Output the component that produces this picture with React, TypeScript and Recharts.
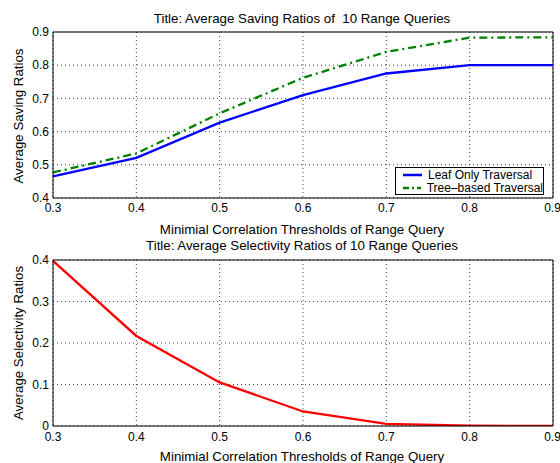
import { CartesianGrid, Line, LineChart, ReferenceLine, XAxis, YAxis } from "recharts";

const thresholds = [0.3, 0.4, 0.5, 0.6, 0.7, 0.8, 0.9];
const leafOnly = [0.465, 0.521, 0.627, 0.71, 0.775, 0.8, 0.8];
const treeBased = [0.477, 0.534, 0.655, 0.762, 0.84, 0.883, 0.884];
const selectivity = [0.398, 0.217, 0.105, 0.035, 0.005, 0.001, 0];

const xTicks = [0.3, 0.4, 0.5, 0.6, 0.7, 0.8, 0.9];
const savingTicks = [0.4, 0.5, 0.6, 0.7, 0.8, 0.9];
const selectivityTicks = [0, 0.1, 0.2, 0.3, 0.4];

const savingData = thresholds.map((t, i) => ({ t, leaf: leafOnly[i], tree: treeBased[i] }));
const selectivityData = thresholds.map((t, i) => ({ t, sel: selectivity[i] }));

const FONT = "'Liberation Sans', Arial, Helvetica, sans-serif";
const tickStyle = { fill: "#000", fontSize: 12, fontFamily: FONT };

const fmt = (v: number) => (v === 0 ? "0" : String(Math.round(v * 10) / 10));

const series = [
  { key: "leaf", name: "Leaf Only Traversal", color: "#0000ff", dash: undefined },
  { key: "tree", name: "Tree\u2013based Traversal", color: "#008000", dash: "6 3 2 3" },
];

function LegendBox() {
  return (
    <div
      style={{
        position: "absolute",
        left: 395,
        top: 167,
        width: 149,
        height: 28,
        boxSizing: "border-box",
        border: "1px solid #000",
        background: "#fff",
        padding: "1px 0 0 7px",
        fontFamily: FONT,
        fontSize: 12,
        lineHeight: "12.5px",
        whiteSpace: "nowrap",
      }}
    >
      {series.map((s) => (
        <div key={s.key} style={{ display: "flex", alignItems: "center" }}>
          <svg width={19} height={10} style={{ marginRight: 6 }}>
            <line x1={0} x2={19} y1={5} y2={5} stroke={s.color} strokeWidth={2.5} strokeDasharray={s.dash} />
          </svg>
          <span>{s.name}</span>
        </div>
      ))}
    </div>
  );
}

const textBase: React.CSSProperties = {
  position: "absolute",
  fontFamily: FONT,
  fontSize: 13.3,
  color: "#000",
  whiteSpace: "pre",
  transform: "translate(-50%, -50%)",
};

export default function App() {
  return (
    <div style={{ position: "absolute", left: 0, top: 0, width: 560, height: 463, background: "#fff", overflow: "hidden" }}>
      <div style={{ position: "absolute", left: 0, top: 0 }}>
        <LineChart width={560} height={220} data={savingData} margin={{ top: 32, right: 7, bottom: 2, left: 13 }}>
          <CartesianGrid stroke="#444" strokeDasharray="1 3" />
          <XAxis
            dataKey="t"
            type="number"
            domain={[0.3, 0.9]}
            ticks={xTicks}
            tickFormatter={fmt}
            height={20}
            tickLine={false}
            tickSize={2}
            tickMargin={3}
            axisLine={{ stroke: "#000" }}
            tick={tickStyle}
          />
          <YAxis
            type="number"
            domain={[0.4, 0.9]}
            ticks={savingTicks}
            tickFormatter={fmt}
            width={40}
            tickLine={false}
            tickSize={2}
            tickMargin={2}
            axisLine={{ stroke: "#000" }}
            tick={tickStyle}
            allowDataOverflow
          />
          <ReferenceLine y={0.9} stroke="#000" />
          <ReferenceLine x={0.9} stroke="#000" />
          <Line dataKey="leaf" stroke="#0000ff" strokeWidth={2.3} dot={false} isAnimationActive={false} />
          <Line dataKey="tree" stroke="#008000" strokeWidth={2.3} strokeDasharray="8 4 2 4" dot={false} isAnimationActive={false} />
        </LineChart>
      </div>
      <LegendBox />
      <div style={{ position: "absolute", left: 0, top: 232 }}>
        <LineChart width={560} height={231} data={selectivityData} margin={{ top: 28, right: 7, bottom: 17, left: 13 }}>
          <CartesianGrid stroke="#444" strokeDasharray="1 3" />
          <XAxis
            dataKey="t"
            type="number"
            domain={[0.3, 0.9]}
            ticks={xTicks}
            tickFormatter={fmt}
            height={20}
            tickLine={false}
            tickSize={2}
            tickMargin={4}
            axisLine={{ stroke: "#000" }}
            tick={tickStyle}
          />
          <YAxis
            type="number"
            domain={[0, 0.4]}
            ticks={selectivityTicks}
            tickFormatter={fmt}
            width={40}
            tickLine={false}
            tickSize={2}
            tickMargin={2}
            axisLine={{ stroke: "#000" }}
            tick={tickStyle}
            allowDataOverflow
          />
          <ReferenceLine y={0.4} stroke="#000" />
          <ReferenceLine x={0.9} stroke="#000" />
          <Line dataKey="sel" stroke="#ff0000" strokeWidth={2.3} dot={false} isAnimationActive={false} />
        </LineChart>
      </div>
      <div style={{ ...textBase, left: 302, top: 18 }}>Title: Average Saving Ratios of  10 Range Queries</div>
      <div style={{ ...textBase, left: 302, top: 229 }}>Minimial Correlation Thresholds of Range Query</div>
      <div style={{ ...textBase, left: 302, top: 245 }}>Title: Average Selectivity Ratios of 10 Range Queries</div>
      <div style={{ ...textBase, left: 302, top: 456 }}>Minimial Correlation Thresholds of Range Query</div>
      <div style={{ ...textBase, left: 18, top: 116, transform: "translate(-50%, -50%) rotate(-90deg)" }}>Average Saving Ratios</div>
      <div style={{ ...textBase, left: 18, top: 343, transform: "translate(-50%, -50%) rotate(-90deg)" }}>Average Selectivity Ratios</div>
    </div>
  );
}
